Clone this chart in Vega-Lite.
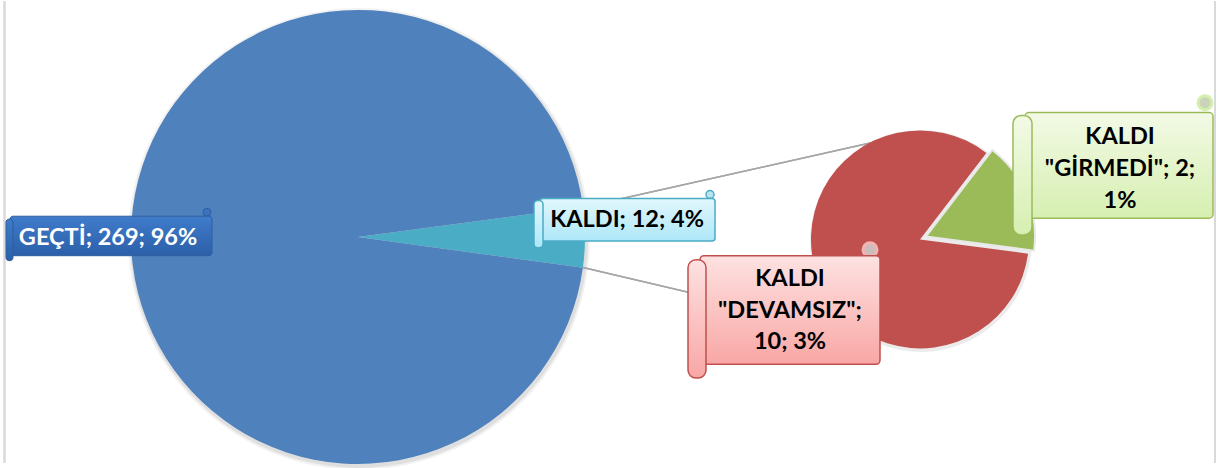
{
  "$schema": "https://vega.github.io/schema/vega-lite/v6.json",
  "width": 1219,
  "height": 468,
  "autosize": {"type": "fit", "contains": "padding"},
  "padding": 0,
  "background": "#ffffff",
  "config": {"view": {"stroke": null}, "text": {"font": "Lato", "fontWeight": "bold", "fontSize": 23.5}},
  "datasets": {
    "ana": [
      {"kategori": "KALDI", "sayi": 12, "sira": 1, "etiket": ["KALDI; 12; 4%"]},
      {"kategori": "GEÇTİ", "sayi": 269, "sira": 2, "etiket": ["GEÇTİ; 269; 96%"]}
    ],
    "ikincil": [
      {"kategori": "KALDI \"GİRMEDİ\"", "sayi": 2, "sira": 1, "etiket": ["KALDI", "\"GİRMEDİ\"; 2;", "1%"]},
      {"kategori": "KALDI \"DEVAMSIZ\"", "sayi": 10, "sira": 2, "etiket": ["KALDI", "\"DEVAMSIZ\";", "10; 3%"]}
    ]
  },
  "resolve": {"scale": {"theta": "independent"}},
  "layer": [
    {
      "data": {"name": "ana"},
      "mark": {"type": "rule", "stroke": "#d9d9d9", "strokeWidth": 2},
      "encoding": {
        "x": {"datum": 0.369, "type": "quantitative", "scale": {"domain": [0, 100], "nice": false, "zero": false}, "axis": null},
        "y": {"datum": 0, "type": "quantitative", "scale": {"domain": [0, 100], "nice": false, "zero": false, "reverse": true}, "axis": null},
        "y2": {"datum": 100}
      }
    },
    {
      "data": {"name": "ana"},
      "mark": {"type": "rule", "stroke": "#d9d9d9", "strokeWidth": 2},
      "encoding": {
        "x": {"datum": 99.672, "type": "quantitative", "axis": null},
        "y": {"datum": 0, "type": "quantitative", "axis": null},
        "y2": {"datum": 100}
      }
    },
    {
      "data": {"name": "ana"},
      "mark": {"type": "arc", "outerRadius": 231, "fill": "#000000", "opacity": 0.05},
      "encoding": {
        "theta": {"field": "sayi", "type": "quantitative", "stack": true},
        "x": {"datum": 29.45, "type": "quantitative", "axis": null},
        "y": {"datum": 51.496, "type": "quantitative", "axis": null}
      }
    },
    {
      "data": {"name": "ana"},
      "mark": {"type": "arc", "outerRadius": 229, "fill": "#000000", "opacity": 0.08},
      "encoding": {
        "theta": {"field": "sayi", "type": "quantitative", "stack": true},
        "x": {"datum": 29.45, "type": "quantitative", "axis": null},
        "y": {"datum": 51.496, "type": "quantitative", "axis": null}
      }
    },
    {
      "data": {"name": "ikincil"},
      "mark": {"type": "arc", "outerRadius": 111, "fill": "#000000", "opacity": 0.08},
      "encoding": {
        "theta": {"field": "sayi", "type": "quantitative", "stack": true},
        "x": {"datum": 75.554, "type": "quantitative", "axis": null},
        "y": {"datum": 51.923, "type": "quantitative", "axis": null}
      }
    },
    {
      "data": {"name": "ana"},
      "mark": {"type": "rule", "stroke": "#a6a6a6", "strokeWidth": 1.5},
      "encoding": {
        "x": {"datum": 47.826, "type": "quantitative", "axis": null},
        "y": {"datum": 44.658, "type": "quantitative", "axis": null},
        "x2": {"datum": 75.308},
        "y2": {"datum": 28.419}
      }
    },
    {
      "data": {"name": "ana"},
      "mark": {"type": "rule", "stroke": "#a6a6a6", "strokeWidth": 1.5},
      "encoding": {
        "x": {"datum": 47.826, "type": "quantitative", "axis": null},
        "y": {"datum": 57.69, "type": "quantitative", "axis": null},
        "x2": {"datum": 75.472},
        "y2": {"datum": 74.786}
      }
    },
    {
      "data": {"name": "ana"},
      "mark": {"type": "arc", "outerRadius": 227},
      "encoding": {
        "theta": {"field": "sayi", "type": "quantitative", "stack": true, "scale": {"range": [1.4392, 7.7224]}},
        "order": {"field": "sira", "type": "quantitative"},
        "color": {"field": "kategori", "type": "nominal", "legend": null,
          "scale": {"domain": ["GEÇTİ", "KALDI", "KALDI \"DEVAMSIZ\"", "KALDI \"GİRMEDİ\""], "range": ["#4f81bd", "#4bacc6", "#c0504d", "#9bbb59"]}},
        "x": {"datum": 29.368, "type": "quantitative", "axis": null},
        "y": {"datum": 51.068, "type": "quantitative", "axis": null}
      }
    },
    {
      "data": {"name": "ikincil"},
      "mark": {"type": "arc", "outerRadius": 109},
      "encoding": {
        "theta": {"field": "sayi", "type": "quantitative", "stack": true, "scale": {"range": [0.6545, 6.9377]}},
        "order": {"field": "sira", "type": "quantitative"},
        "color": {"field": "kategori", "type": "nominal", "legend": null},
        "fillOpacity": {"condition": {"test": "datum.sira === 1", "value": 0}, "value": 1},
        "x": {"datum": 75.472, "type": "quantitative", "axis": null},
        "y": {"datum": 51.603, "type": "quantitative", "axis": null}
      }
    },
    {
      "data": {"name": "ikincil"},
      "mark": {"type": "arc", "outerRadius": 109, "xOffset": 6, "yOffset": -3},
      "encoding": {
        "theta": {"field": "sayi", "type": "quantitative", "stack": true, "scale": {"range": [0.6545, 6.9377]}},
        "order": {"field": "sira", "type": "quantitative"},
        "color": {"field": "kategori", "type": "nominal", "legend": null},
        "fillOpacity": {"condition": {"test": "datum.sira === 1", "value": 1}, "value": 0},
        "strokeOpacity": {"condition": {"test": "datum.sira === 1", "value": 1}, "value": 0},
        "stroke": {"value": "#e8e8e8"},
        "strokeWidth": {"value": 2},
        "x": {"datum": 75.472, "type": "quantitative", "axis": null},
        "y": {"datum": 51.603, "type": "quantitative", "axis": null}
      }
    },

    {
      "data": {"name": "ana"}, "transform": [{"filter": "datum.sira === 2"}],
      "mark": {"type": "point", "filled": true, "size": 64, "fill": "#3a72bf", "stroke": "#2f5f9e", "strokeWidth": 1, "opacity": 1},
      "encoding": {"x": {"datum": 16.98, "type": "quantitative", "axis": null}, "y": {"datum": 45.73, "type": "quantitative", "axis": null}}
    },
    {
      "data": {"name": "ana"}, "transform": [{"filter": "datum.sira === 2"}],
      "mark": {"type": "rect", "cornerRadius": 3, "stroke": "#2f5f9e", "strokeWidth": 1,
        "fill": {"gradient": "linear", "x1": 0, "y1": 0, "x2": 0, "y2": 1, "stops": [{"offset": 0, "color": "#3f7ccb"}, {"offset": 1, "color": "#2c5fa8"}]}},
      "encoding": {"x": {"datum": 0.82, "type": "quantitative", "axis": null}, "x2": {"datum": 17.391}, "y": {"datum": 46.581, "type": "quantitative", "axis": null}, "y2": {"datum": 55.128}}
    },
    {
      "data": {"name": "ana"}, "transform": [{"filter": "datum.sira === 2"}],
      "mark": {"type": "rect", "cornerRadius": 3, "stroke": "#2f5f9e", "strokeWidth": 1,
        "fill": {"gradient": "linear", "x1": 0, "y1": 0, "x2": 0, "y2": 1, "stops": [{"offset": 0, "color": "#3f7ccb"}, {"offset": 1, "color": "#2c5fa8"}]}},
      "encoding": {"x": {"datum": 0.492, "type": "quantitative", "axis": null}, "x2": {"datum": 1.066}, "y": {"datum": 47.222, "type": "quantitative", "axis": null}, "y2": {"datum": 56.197}}
    },
    {
      "data": {"name": "ana"}, "transform": [{"filter": "datum.sira === 2"}],
      "mark": {"type": "text", "color": "#ffffff", "align": "center", "baseline": "middle"},
      "encoding": {"text": {"field": "etiket", "type": "nominal"}, "x": {"datum": 8.86, "type": "quantitative", "axis": null}, "y": {"datum": 51.282, "type": "quantitative", "axis": null}}
    },

    {
      "data": {"name": "ana"}, "transform": [{"filter": "datum.sira === 1"}],
      "mark": {"type": "point", "filled": true, "size": 64, "fill": "#b9e3ef", "stroke": "#4bacc6", "strokeWidth": 1.5, "opacity": 1},
      "encoding": {"x": {"datum": 58.244, "type": "quantitative", "axis": null}, "y": {"datum": 41.88, "type": "quantitative", "axis": null}}
    },
    {
      "data": {"name": "ana"}, "transform": [{"filter": "datum.sira === 1"}],
      "mark": {"type": "rect", "cornerRadius": 3, "stroke": "#4bacc6", "strokeWidth": 1.5,
        "fill": {"gradient": "linear", "x1": 0, "y1": 0, "x2": 0, "y2": 1, "stops": [{"offset": 0, "color": "#e2f7fd"}, {"offset": 1, "color": "#ade7f8"}]}},
      "encoding": {"x": {"datum": 44.299, "type": "quantitative", "axis": null}, "x2": {"datum": 58.655}, "y": {"datum": 42.735, "type": "quantitative", "axis": null}, "y2": {"datum": 51.923}}
    },
    {
      "data": {"name": "ana"}, "transform": [{"filter": "datum.sira === 1"}],
      "mark": {"type": "rect", "cornerRadius": 4, "stroke": "#4bacc6", "strokeWidth": 1.5,
        "fill": {"gradient": "linear", "x1": 0, "y1": 0, "x2": 0, "y2": 1, "stops": [{"offset": 0, "color": "#e2f7fd"}, {"offset": 1, "color": "#ade7f8"}]}},
      "encoding": {"x": {"datum": 43.806, "type": "quantitative", "axis": null}, "x2": {"datum": 44.545}, "y": {"datum": 43.162, "type": "quantitative", "axis": null}, "y2": {"datum": 53.419}}
    },
    {
      "data": {"name": "ana"}, "transform": [{"filter": "datum.sira === 1"}],
      "mark": {"type": "text", "color": "#000000", "align": "center", "baseline": "middle"},
      "encoding": {"text": {"field": "etiket", "type": "nominal"}, "x": {"datum": 51.436, "type": "quantitative", "axis": null}, "y": {"datum": 47.436, "type": "quantitative", "axis": null}}
    },

    {
      "data": {"name": "ikincil"}, "transform": [{"filter": "datum.sira === 2"}],
      "mark": {"type": "point", "filled": true, "size": 196, "fill": "#cdbcbc", "stroke": "#f3b3b2", "strokeWidth": 3, "opacity": 1},
      "encoding": {"x": {"datum": 71.37, "type": "quantitative", "axis": null}, "y": {"datum": 53.846, "type": "quantitative", "axis": null}}
    },
    {
      "data": {"name": "ikincil"}, "transform": [{"filter": "datum.sira === 2"}],
      "mark": {"type": "rect", "cornerRadius": 4, "stroke": "#c0504d", "strokeWidth": 1.5,
        "fill": {"gradient": "linear", "x1": 0, "y1": 0, "x2": 0, "y2": 1, "stops": [{"offset": 0, "color": "#fde2e1"}, {"offset": 1, "color": "#f8a7a5"}]}},
      "encoding": {"x": {"datum": 57.424, "type": "quantitative", "axis": null}, "x2": {"datum": 72.19}, "y": {"datum": 55.128, "type": "quantitative", "axis": null}, "y2": {"datum": 78.632}}
    },
    {
      "data": {"name": "ikincil"}, "transform": [{"filter": "datum.sira === 2"}],
      "mark": {"type": "rect", "cornerRadius": 8, "stroke": "#c0504d", "strokeWidth": 1.5,
        "fill": {"gradient": "linear", "x1": 0, "y1": 0, "x2": 0, "y2": 1, "stops": [{"offset": 0, "color": "#fde2e1"}, {"offset": 1, "color": "#f8a7a5"}]}},
      "encoding": {"x": {"datum": 56.44, "type": "quantitative", "axis": null}, "x2": {"datum": 57.916}, "y": {"datum": 55.983, "type": "quantitative", "axis": null}, "y2": {"datum": 81.624}}
    },
    {
      "data": {"name": "ikincil"}, "transform": [{"filter": "datum.sira === 2"}],
      "mark": {"type": "text", "color": "#000000", "align": "center", "baseline": "middle", "lineHeight": 31.5},
      "encoding": {"text": {"field": "etiket", "type": "nominal"}, "x": {"datum": 64.807, "type": "quantitative", "axis": null}, "y": {"datum": 60.256, "type": "quantitative", "axis": null}}
    },

    {
      "data": {"name": "ikincil"}, "transform": [{"filter": "datum.sira === 1"}],
      "mark": {"type": "point", "filled": true, "size": 196, "fill": "#c9d4b8", "stroke": "#d5efae", "strokeWidth": 3, "opacity": 1},
      "encoding": {"x": {"datum": 98.852, "type": "quantitative", "axis": null}, "y": {"datum": 22.009, "type": "quantitative", "axis": null}}
    },
    {
      "data": {"name": "ikincil"}, "transform": [{"filter": "datum.sira === 1"}],
      "mark": {"type": "rect", "cornerRadius": 4, "stroke": "#9bbb59", "strokeWidth": 1.5,
        "fill": {"gradient": "linear", "x1": 0, "y1": 0, "x2": 0, "y2": 1, "stops": [{"offset": 0, "color": "#f3fae6"}, {"offset": 1, "color": "#d6efb0"}]}},
      "encoding": {"x": {"datum": 84.085, "type": "quantitative", "axis": null}, "x2": {"datum": 99.508}, "y": {"datum": 24.145, "type": "quantitative", "axis": null}, "y2": {"datum": 47.009}}
    },
    {
      "data": {"name": "ikincil"}, "transform": [{"filter": "datum.sira === 1"}],
      "mark": {"type": "rect", "cornerRadius": 8, "stroke": "#9bbb59", "strokeWidth": 1.5,
        "fill": {"gradient": "linear", "x1": 0, "y1": 0, "x2": 0, "y2": 1, "stops": [{"offset": 0, "color": "#f3fae6"}, {"offset": 1, "color": "#d6efb0"}]}},
      "encoding": {"x": {"datum": 83.101, "type": "quantitative", "axis": null}, "x2": {"datum": 84.66}, "y": {"datum": 24.786, "type": "quantitative", "axis": null}, "y2": {"datum": 50.641}}
    },
    {
      "data": {"name": "ikincil"}, "transform": [{"filter": "datum.sira === 1"}],
      "mark": {"type": "text", "color": "#000000", "align": "center", "baseline": "middle", "lineHeight": 32},
      "encoding": {"text": {"field": "etiket", "type": "nominal"}, "x": {"datum": 91.879, "type": "quantitative", "axis": null}, "y": {"datum": 29.487, "type": "quantitative", "axis": null}}
    }
  ]
}
